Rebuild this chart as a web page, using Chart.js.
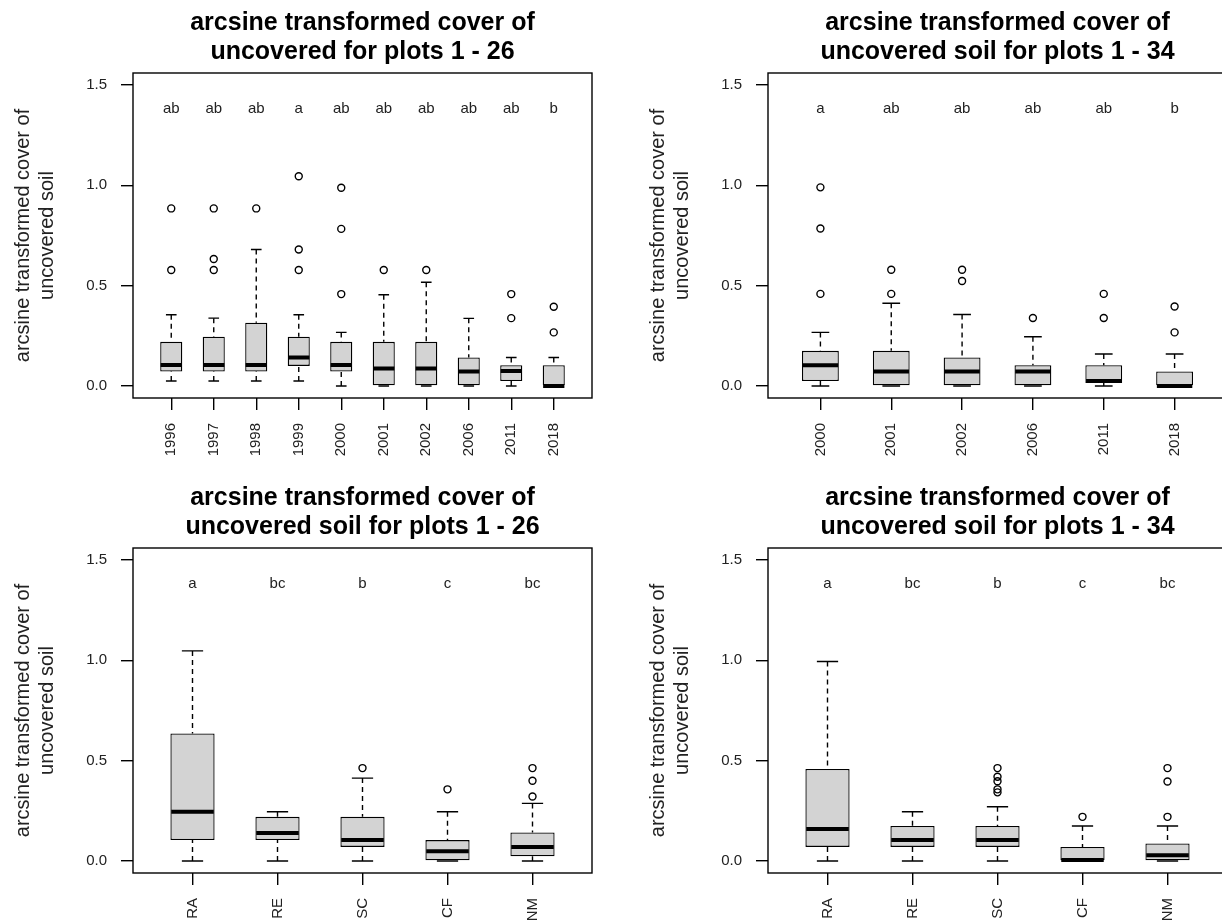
<!DOCTYPE html>
<html>
<head>
<meta charset="utf-8">
<script src="https://cdn.jsdelivr.net/npm/chart.js@4.4.1/dist/chart.umd.min.js"></script>
<style>
  html, body { margin: 0; padding: 0; background: #fff; overflow: hidden; width: 1222px; height: 923px; }
  canvas { position: absolute; }
</style>
</head>
<body>
<canvas id="p1" width="611" height="460" style="left:0;top:0"></canvas>
<canvas id="p2" width="611" height="460" style="left:635px;top:0"></canvas>
<canvas id="p3" width="611" height="460" style="left:0;top:475px"></canvas>
<canvas id="p4" width="611" height="460" style="left:635px;top:475px"></canvas>
<script>
// ---- data ----
const yTicks = [0, 0.5, 1, 1.5];
const yTitle = ['arcsine transformed cover of', 'uncovered soil'];

// plots 1 - 26, by year
const yearsA = ['1996', '1997', '1998', '1999', '2000', '2001', '2002', '2006', '2011', '2018'];
const loA  = [0.025, 0.025, 0.025, 0.025, 0, 0, 0, 0, 0, 0];
const q1A  = [0.072, 0.072, 0.072, 0.10, 0.072, 0, 0, 0, 0.025, 0];
const medA = [0.105, 0.105, 0.105, 0.142, 0.105, 0.087, 0.087, 0.072, 0.075, 0];
const q3A  = [0.22, 0.245, 0.315, 0.245, 0.22, 0.22, 0.22, 0.142, 0.103, 0.103];
const hiA  = [0.355, 0.338, 0.68, 0.355, 0.267, 0.455, 0.517, 0.337, 0.142, 0.142];
const outA = [[0.885, 0.578], [0.885, 0.633, 0.578], [0.885], [1.045, 0.68, 0.578], [0.988, 0.783, 0.458],
              [0.578], [0.578], [], [0.458, 0.338], [0.395, 0.267]];
const letA = ['ab', 'ab', 'ab', 'a', 'ab', 'ab', 'ab', 'ab', 'ab', 'b'];

// plots 1 - 34, by year
const yearsB = ['2000', '2001', '2002', '2006', '2011', '2018'];
const loB  = [0, 0, 0, 0, 0, 0];
const q1B  = [0.025, 0, 0, 0, 0.015, 0];
const medB = [0.103, 0.072, 0.072, 0.072, 0.025, 0];
const q3B  = [0.175, 0.175, 0.142, 0.103, 0.103, 0.072];
const hiB  = [0.267, 0.412, 0.356, 0.245, 0.159, 0.159];
const outB = [[0.99, 0.785, 0.459], [0.579, 0.459], [0.579, 0.523], [0.339], [0.459, 0.339], [0.396, 0.267]];
const letB = ['a', 'ab', 'ab', 'ab', 'ab', 'b'];

// by treatment
const treatments = ['RA', 'RE', 'SC', 'CF', 'NM'];
const loC  = [0, 0, 0, 0, 0];
const q1C  = [0.104, 0.104, 0.07, 0, 0.023];
const medC = [0.245, 0.14, 0.104, 0.048, 0.07];
const q3C  = [0.635, 0.22, 0.22, 0.104, 0.142];
const hiC  = [1.047, 0.245, 0.413, 0.245, 0.287];
const outC = [[], [], [0.463], [0.357], [0.463, 0.4, 0.321]];

const loD  = [0, 0, 0, 0, 0];
const q1D  = [0.07, 0.07, 0.07, 0, 0];
const medD = [0.159, 0.104, 0.104, 0.005, 0.028];
const q3D  = [0.459, 0.174, 0.174, 0.07, 0.087];
const hiD  = [0.994, 0.245, 0.27, 0.174, 0.174];
const outD = [[], [], [0.463, 0.42, 0.397, 0.357, 0.342], [0.22], [0.463, 0.396, 0.22]];

const letTrt = ['a', 'bc', 'b', 'c', 'bc'];

// ---- drawing ----
Chart.defaults.font.family = '"Liberation Sans", Arial, Helvetica, sans-serif';
Chart.defaults.color = '#222';

const LETTER_Y = 1.38;
const INK = '#000';

const framePlugin = {
  id: 'frame',
  afterDraw(chart) {
    const a = chart.chartArea, ctx = chart.ctx;
    ctx.save();
    ctx.strokeStyle = INK;
    ctx.lineWidth = 1.4;
    ctx.strokeRect(a.left, a.top, a.right - a.left, a.bottom - a.top);
    ctx.restore();
  }
};

const letterPlugin = {
  id: 'letters',
  afterDatasetsDraw(chart, args, opts) {
    const ctx = chart.ctx, x = chart.scales.x, y = chart.scales.y;
    ctx.save();
    ctx.font = '15px "Liberation Sans", Arial, sans-serif';
    ctx.fillStyle = '#222';
    ctx.textAlign = 'center';
    ctx.textBaseline = 'middle';
    opts.labels.forEach((t, i) => ctx.fillText(t, x.getPixelForValue(i + 1), y.getPixelForValue(LETTER_Y)));
    ctx.restore();
  }
};

function boxPanel(id, titleLines, cats, lo, q1, med, q3, hi, outs, letters) {
  const n = cats.length;
  const half = 0.25, cap = 0.125;
  const boxes = cats.map((c, i) => ({x: i + 1, y: [q1[i], q3[i]]}));
  const medians = [], whiskers = [], caps = [], points = [];
  cats.forEach((c, i) => {
    const x = i + 1;
    medians.push({x: x - half, y: med[i]}, {x: x + half, y: med[i]}, {x: x, y: null});
    whiskers.push({x: x, y: hi[i]}, {x: x, y: q3[i]}, {x: x, y: null},
                  {x: x, y: lo[i]}, {x: x, y: q1[i]}, {x: x, y: null});
    caps.push({x: x - cap, y: hi[i]}, {x: x + cap, y: hi[i]}, {x: x, y: null},
              {x: x - cap, y: lo[i]}, {x: x + cap, y: lo[i]}, {x: x, y: null});
    outs[i].forEach(v => points.push({x: x, y: v}));
  });

  const lineBase = {type: 'line', pointRadius: 0, spanGaps: false, borderColor: INK, fill: false};

  new Chart(document.getElementById(id), {
    type: 'bar',
    data: {
      datasets: [
        {
          data: boxes, backgroundColor: '#d3d3d3', borderColor: INK, borderWidth: 1.3,
          borderSkipped: false, barPercentage: 0.52, categoryPercentage: 1, order: 4
        },
        Object.assign({}, lineBase, {data: whiskers, borderWidth: 1.4, borderDash: [5, 4], order: 3}),
        Object.assign({}, lineBase, {data: caps, borderWidth: 1.4, order: 3}),
        Object.assign({}, lineBase, {data: medians, borderWidth: 4, borderCapStyle: 'butt', order: 2}),
        {
          type: 'line', data: points, showLine: false, pointStyle: 'circle', pointRadius: 3.5,
          pointBackgroundColor: 'rgba(0,0,0,0)', pointBorderColor: INK, pointBorderWidth: 1.4, order: 1
        }
      ]
    },
    options: {
      responsive: false,
      animation: false,
      events: [],
      layout: {padding: {left: 0, right: 19, top: 0, bottom: 0}},
      plugins: {
        legend: {display: false},
        tooltip: {enabled: false},
        title: {
          display: true, text: titleLines, fullSize: false, color: INK,
          font: {size: 25, weight: 'bold', lineHeight: 1.15},
          padding: {top: 9, bottom: 6.5}
        },
        letters: {labels: letters}
      },
      scales: {
        x: {
          type: 'linear',
          min: 0.5 - 0.04 * n,
          max: n + 0.5 + 0.04 * n,
          offset: false,
          afterBuildTicks: s => { s.ticks = cats.map((c, i) => ({value: i + 1})); },
          afterFit: s => { s.height = 62; },
          border: {display: false},
          grid: {display: true, offset: false, drawOnChartArea: false, drawTicks: true,
                 tickLength: 12, color: INK, lineWidth: 1.4},
          ticks: {
            autoSkip: false, minRotation: 90, maxRotation: 90, padding: 13,
            font: {size: 15}, color: '#222',
            callback: v => cats[Math.round(v) - 1]
          }
        },
        y: {
          type: 'linear',
          min: -0.06,
          max: 1.56,
          afterBuildTicks: s => { s.ticks = yTicks.map(v => ({value: v})); },
          afterFit: s => { s.width = 133; },
          border: {display: false},
          grid: {display: true, drawOnChartArea: false, drawTicks: true,
                 tickLength: 12, color: INK, lineWidth: 1.4},
          ticks: {padding: 14, font: {size: 15}, color: '#222', callback: v => v.toFixed(1)},
          title: {
            display: true, text: yTitle, color: '#222',
            font: {size: 20, lineHeight: 1.2},
            padding: {top: 11, bottom: 0}
          }
        }
      }
    },
    plugins: [framePlugin, letterPlugin]
  });
}

boxPanel('p1', ['arcsine transformed cover of', 'uncovered for plots 1 - 26'],
  yearsA, loA, q1A, medA, q3A, hiA, outA, letA);
boxPanel('p2', ['arcsine transformed cover of', 'uncovered soil for plots 1 - 34'],
  yearsB, loB, q1B, medB, q3B, hiB, outB, letB);
boxPanel('p3', ['arcsine transformed cover of', 'uncovered soil for plots 1 - 26'],
  treatments, loC, q1C, medC, q3C, hiC, outC, letTrt);
boxPanel('p4', ['arcsine transformed cover of', 'uncovered soil for plots 1 - 34'],
  treatments, loD, q1D, medD, q3D, hiD, outD, letTrt);
</script>
</body>
</html>
